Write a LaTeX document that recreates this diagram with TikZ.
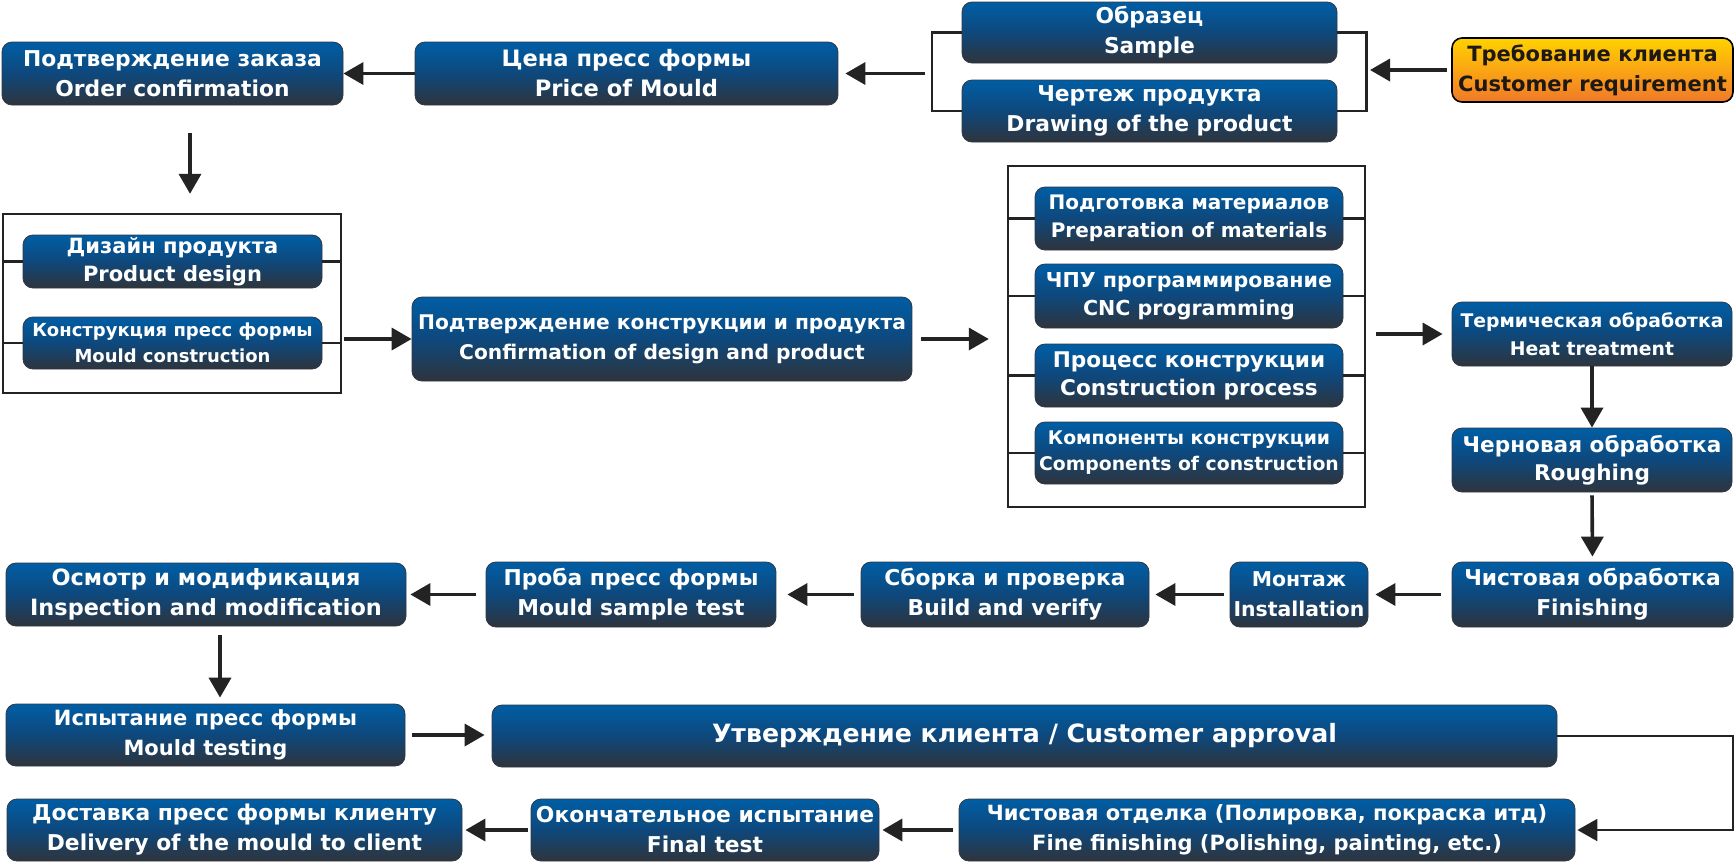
\documentclass[tikz,border=0pt]{standalone}
\usepackage{fontspec}
\setmainfont{DejaVu Sans}
\usetikzlibrary{arrows.meta}
\definecolor{bxtop}{RGB}{0,94,165}
\definecolor{bxmid}{RGB}{14,72,124}
\definecolor{bxbot}{RGB}{46,52,60}
\definecolor{bxline}{RGB}{50,55,65}
\definecolor{ortop}{RGB}{255,210,0}
\definecolor{ormid}{RGB}{250,165,20}
\definecolor{orbot}{RGB}{240,120,40}
\definecolor{ortext}{RGB}{30,25,20}
\definecolor{arr}{RGB}{35,35,35}
\newcommand\fsz[2]{\bfseries\fontsize{#1}{#2}\selectfont}
\tikzset{
  bx/.style 2 args={draw=bxline, line width=0.4pt, rounded corners=5pt,
    top color=bxtop, bottom color=bxbot, middle color=bxmid,
    text=white, align=center, inner sep=0pt,
    minimum width=#1*0.5pt, minimum height=#2*0.5pt, font=\fsz{10.9}{15}},
  obx/.style 2 args={draw=black, line width=0.8pt, rounded corners=5pt,
    top color=ortop, bottom color=orbot, middle color=ormid,
    text=ortext, align=center, inner sep=0pt,
    minimum width=#1*0.5pt, minimum height=#2*0.5pt, font=\fsz{10.5}{15}},
  frame/.style 2 args={draw=arr, line width=1.2pt, inner sep=0pt,
    minimum width=#1*0.5pt, minimum height=#2*0.5pt},
  ar/.style={draw=arr, line width=1.8pt, -{Triangle[length=10pt,width=11pt]}},
  thinar/.style={draw=arr, line width=1pt, -{Triangle[length=10pt,width=11pt]}},
  bl/.style={draw=arr, line width=1.1pt},
}
\begin{document}
\begin{tikzpicture}[x=0.5pt,y=-0.5pt]
\useasboundingbox (0,0) rectangle (1736,864);
% frames
\node[frame={338}{179}] (lrect) at (172,303.5) {};
\node[frame={357}{341}] (mrect) at (1186.5,336.5) {};
% row 1
\node[bx={341}{63}] (orderc) at (172.5,73.5) {Подтверждение заказа\\Order confirmation};
\node[bx={423}{63}, font=\fsz{11.3}{15}] (price) at (626.5,73.5) {Цена пресс формы\\Price of Mould};
\node[bx={375}{61}] (sample) at (1149.5,32.5) {Образец\\Sample};
\node[bx={375}{62}] (drawing) at (1149.5,111) {Чертеж продукта\\Drawing of the product};
\node[obx={281}{64}] (cust) at (1592.5,70) {Требование клиента\\Customer requirement};
% left frame boxes
\node[bx={299}{53}, font=\fsz{10.5}{14}] (pdesign) at (172.5,261.5) {Дизайн продукта\\Product design};
\node[bx={299}{52}, font=\fsz{9}{13}] (mconst) at (172.5,343) {Конструкция пресс формы\\Mould construction};
\node[bx={500}{84}, font=\fsz{10.1}{15}] (conf) at (662,339) {Подтверждение конструкции и продукта\\Confirmation of design and product};
% mid frame boxes
\node[bx={308}{63}, font=\fsz{10}{14}] (prep) at (1189,218.5) {Подготовка материалов\\Preparation of materials};
\node[bx={308}{64}, font=\fsz{10.3}{14}] (cnc) at (1189,296) {ЧПУ программирование\\CNC programming};
\node[bx={308}{63}, font=\fsz{10.8}{14}] (cproc) at (1189,375.5) {Процесс конструкции\\Construction process};
\node[bx={308}{62}, font=\fsz{9.4}{13}] (comp) at (1189,453) {Компоненты конструкции\\Components of construction};
% right column
\node[bx={280}{64}, font=\fsz{9.4}{14}] (heat) at (1592,334) {Термическая обработка\\Heat treatment};
\node[bx={280}{64}, font=\fsz{10.8}{14}] (rough) at (1592,460) {Черновая обработка\\Roughing};
\node[bx={281}{65}] (fin) at (1592.5,594.5) {Чистовая обработка\\Finishing};
% row 3
\node[bx={138}{65}, font=\fsz{10.2}{15}] (inst) at (1299,594.5) {Монтаж\\Installation};
\node[bx={288}{65}] (build) at (1005,594.5) {Сборка и проверка\\Build and verify};
\node[bx={290}{65}] (mst) at (631,594.5) {Проба пресс формы\\Mould sample test};
\node[bx={400}{63}, font=\fsz{11.2}{15}] (insp) at (206,594.5) {Осмотр и модификация\\Inspection and modification};
% row 4
\node[bx={399}{62}, font=\fsz{10.5}{15}] (mtest) at (205.5,735) {Испытание пресс формы\\Mould testing};
\node[bx={1065}{62}, font=\fsz{12.6}{15}] (appr) at (1024.5,736) {Утверждение клиента / Customer approval};
% row 5
\node[bx={616}{62}, font=\fsz{10.5}{15}] (fine) at (1267,830) {Чистовая отделка (Полировка, покраска итд)\\Fine finishing (Polishing, painting, etc.)};
\node[bx={348}{62}] (final) at (705,830) {Окончательное испытание\\Final test};
\node[bx={455}{62}] (deliv) at (234.5,830) {Доставка пресс формы клиенту\\Delivery of the mould to client};
% bracket lines
\draw[bl] (sample.west) -- ++(-30,0) |- (drawing.west);
\draw[bl] (sample.east) -- ++(29,0) |- (drawing.east);
\coordinate (brL) at (932,73.5);
\coordinate (brR) at (1366,70);
\foreach \n in {pdesign,mconst}{
  \draw[bl] (\n.west -| lrect.west) -- (\n.west);
  \draw[bl] (\n.east) -- (\n.east -| lrect.east);
}
\foreach \n in {prep,cnc,cproc,comp}{
  \draw[bl] (\n.west -| mrect.west) -- (\n.west);
  \draw[bl] (\n.east) -- (\n.east -| mrect.east);
}
% arrows
\draw[ar] (price.west) -- (orderc.east);
\draw[ar, shorten <=3.5pt, shorten >=3.5pt] (brL) -- (price.east);
\draw[ar, shorten <=2pt, shorten >=2pt] (cust.west) -- (brR);
\draw[ar, shorten <=14pt, shorten >=9.5pt] ([xshift=8.75pt]orderc.south) -- ([xshift=9pt]lrect.north);
\draw[ar, shorten <=1pt] (lrect.east |- conf.west) -- (conf.west);
\draw[ar, shorten <=4.5pt, shorten >=9pt] (conf.east) -- (conf.east -| mrect.west);
\draw[ar, shorten <=5pt, shorten >=4.5pt] (mrect.east |- heat.west) -- (heat.west);
\draw[ar] (heat.south) -- (rough.north);
\draw[ar, shorten <=1.5pt, shorten >=2.5pt] (rough.south) -- (fin.north);
\draw[ar, shorten <=5.5pt, shorten >=3.5pt] (fin.west) -- (inst.east);
\draw[ar, shorten <=3pt, shorten >=3pt] (inst.west) -- (build.east);
\draw[ar, shorten <=3.5pt, shorten >=5.5pt] (build.west) -- (mst.east);
\draw[ar, shorten <=5pt, shorten >=2pt] (mst.west) -- (insp.east);
\draw[ar, shorten <=4.5pt, shorten >=3pt] ([xshift=7pt]insp.south) -- ([xshift=7.25pt]mtest.north);
\draw[ar, shorten <=3.5pt, shorten >=3.5pt] (mtest.east) -- (mtest.east -| appr.west);
\draw[thinar, shorten >=1pt] (appr.east) -- ++(176,0) |- (fine.east);
\draw[ar, shorten <=3pt, shorten >=1.5pt] (fine.west) -- (final.east);
\draw[ar, shorten <=1.5pt, shorten >=1.5pt] (final.west) -- (deliv.east);
\end{tikzpicture}
\end{document}
